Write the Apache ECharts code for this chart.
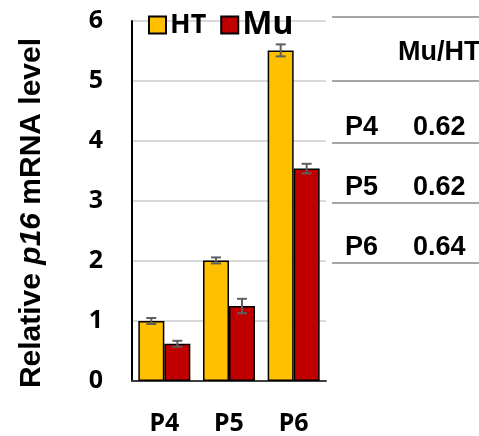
<!DOCTYPE html>
<html>
<head>
<meta charset="utf-8">
<script src="https://cdn.jsdelivr.net/npm/echarts@6/dist/echarts.min.js"></script>
<style>
	html, body { margin: 0; padding: 0; background: #fff; }
	#chart { width: 479px; height: 436px; }
</style>
</head>
<body>
<div id="chart"></div>
<script>
const categories = ['P4', 'P5', 'P6']
const htValues = [1.0, 2.01, 5.51]
const muValues = [0.62, 1.25, 3.54]
const htErr = [0.05, 0.05, 0.1]
const muErr = [0.05, 0.12, 0.08]
const ratioHeader = 'Mu/HT'
const ratios = ['0.62', '0.62', '0.64']
const yTicks = [0, 6, 1] // min, max, interval

const numFont = "'Noto Sans', sans-serif"
const arialFont = "'Liberation Sans', Arial, sans-serif"

const chart = echarts.init(document.getElementById('chart'))

// error bar drawn around each bar, offset by half bar width
const errorSeries = (name, values, errs, offset) => ({
	name: name + '-err',
	type: 'custom',
	z: 5,
	data: values.map((v, i) => [i, v, errs[i]]),
	renderItem: function (params, api) {
		const idx = api.value(0)
		const v = api.value(1)
		const e = api.value(2)
		const hi = api.coord([idx, v + e])
		const lo = api.coord([idx, v - e])
		const x = hi[0] + offset
		const style = { stroke: '#5f5f5f', lineWidth: 2 }
		return {
			type: 'group',
			children: [
				{ type: 'line', shape: { x1: x, y1: hi[1], x2: x, y2: lo[1] }, style },
				{ type: 'line', shape: { x1: x - 5, y1: hi[1], x2: x + 5, y2: hi[1] }, style },
				{ type: 'line', shape: { x1: x - 5, y1: lo[1], x2: x + 5, y2: lo[1] }, style },
			],
		}
	},
})

// right-hand ratio table
const tableLines = [17, 81, 143, 203, 263].map((y) => ({
	type: 'line',
	shape: { x1: 332, y1: y, x2: 479, y2: y },
	style: { stroke: '#a6a6a6', lineWidth: 2 },
}))
const tableText = [
	{
		type: 'text',
		x: 398,
		y: 53,
		style: { text: ratioHeader, font: 'bold 27px ' + arialFont, fill: '#000', verticalAlign: 'middle' },
	},
]
categories.forEach((c, i) => {
	const y = 128 + i * 60
	tableText.push({
		type: 'text',
		x: 345,
		y: y,
		style: { text: c, font: 'bold 27px ' + arialFont, fill: '#000', verticalAlign: 'middle' },
	})
	tableText.push({
		type: 'text',
		x: 413,
		y: y,
		style: { text: ratios[i], font: 'bold 27px ' + arialFont, fill: '#000', verticalAlign: 'middle' },
	})
})

chart.setOption({
	animation: false,
	grid: { left: 132, right: 153, top: 21, bottom: 55 },
	legend: {
		left: 143,
		top: 4,
		icon: 'rect',
		itemWidth: 17,
		itemHeight: 17,
		itemGap: 14,
		data: ['HT', 'Mu'],
		formatter: (name) => (name === 'Mu' ? '{big|Mu}' : '{small|HT}'),
		textStyle: {
			padding: [0, 0, 0, -1],
			rich: {
				small: { fontSize: 27, fontWeight: 'bold', fontFamily: numFont, color: '#000' },
				big: { fontSize: 32, fontWeight: 'bold', fontFamily: numFont, color: '#000' },
			},
		},
	},
	xAxis: {
		type: 'category',
		data: categories,
		axisLine: { lineStyle: { color: '#404040', width: 2 } },
		axisTick: { show: false },
		axisLabel: {
			margin: 30,
			fontSize: 25,
			fontWeight: 'bold',
			fontFamily: numFont,
			color: '#000',
		},
	},
	yAxis: {
		type: 'value',
		min: yTicks[0],
		max: yTicks[1],
		interval: yTicks[2],
		axisLine: { show: true, lineStyle: { color: '#000', width: 2 } },
		axisTick: { show: false },
		splitLine: { lineStyle: { color: '#d9d9d9', width: 2 } },
		axisLabel: {
			margin: 29,
			fontSize: 25,
			fontWeight: 'bold',
			fontFamily: numFont,
			color: '#000',
		},
		name: 'Relative {i|p16} mRNA level',
		nameLocation: 'middle',
		nameGap: 85,
		nameTextStyle: {
			fontSize: 30,
			fontWeight: 'bold',
			fontFamily: arialFont,
			color: '#000',
			padding: [0, 24, 0, 0],
			rich: {
				i: { fontSize: 30, fontWeight: 'bold', fontStyle: 'italic', fontFamily: arialFont, color: '#000' },
			},
		},
	},
	series: [
		{
			name: 'HT',
			type: 'bar',
			data: htValues,
			barWidth: 26,
			barGap: '0%',
			itemStyle: { color: '#FFC000', borderColor: '#000', borderWidth: 1.5 },
		},
		{
			name: 'Mu',
			type: 'bar',
			data: muValues,
			barWidth: 26,
			barGap: '0%',
			itemStyle: { color: '#C00000', borderColor: '#000', borderWidth: 1.5 },
		},
		errorSeries('HT', htValues, htErr, -13),
		errorSeries('Mu', muValues, muErr, 13),
	],
	graphic: tableLines.concat(tableText),
})
</script>
</body>
</html>
